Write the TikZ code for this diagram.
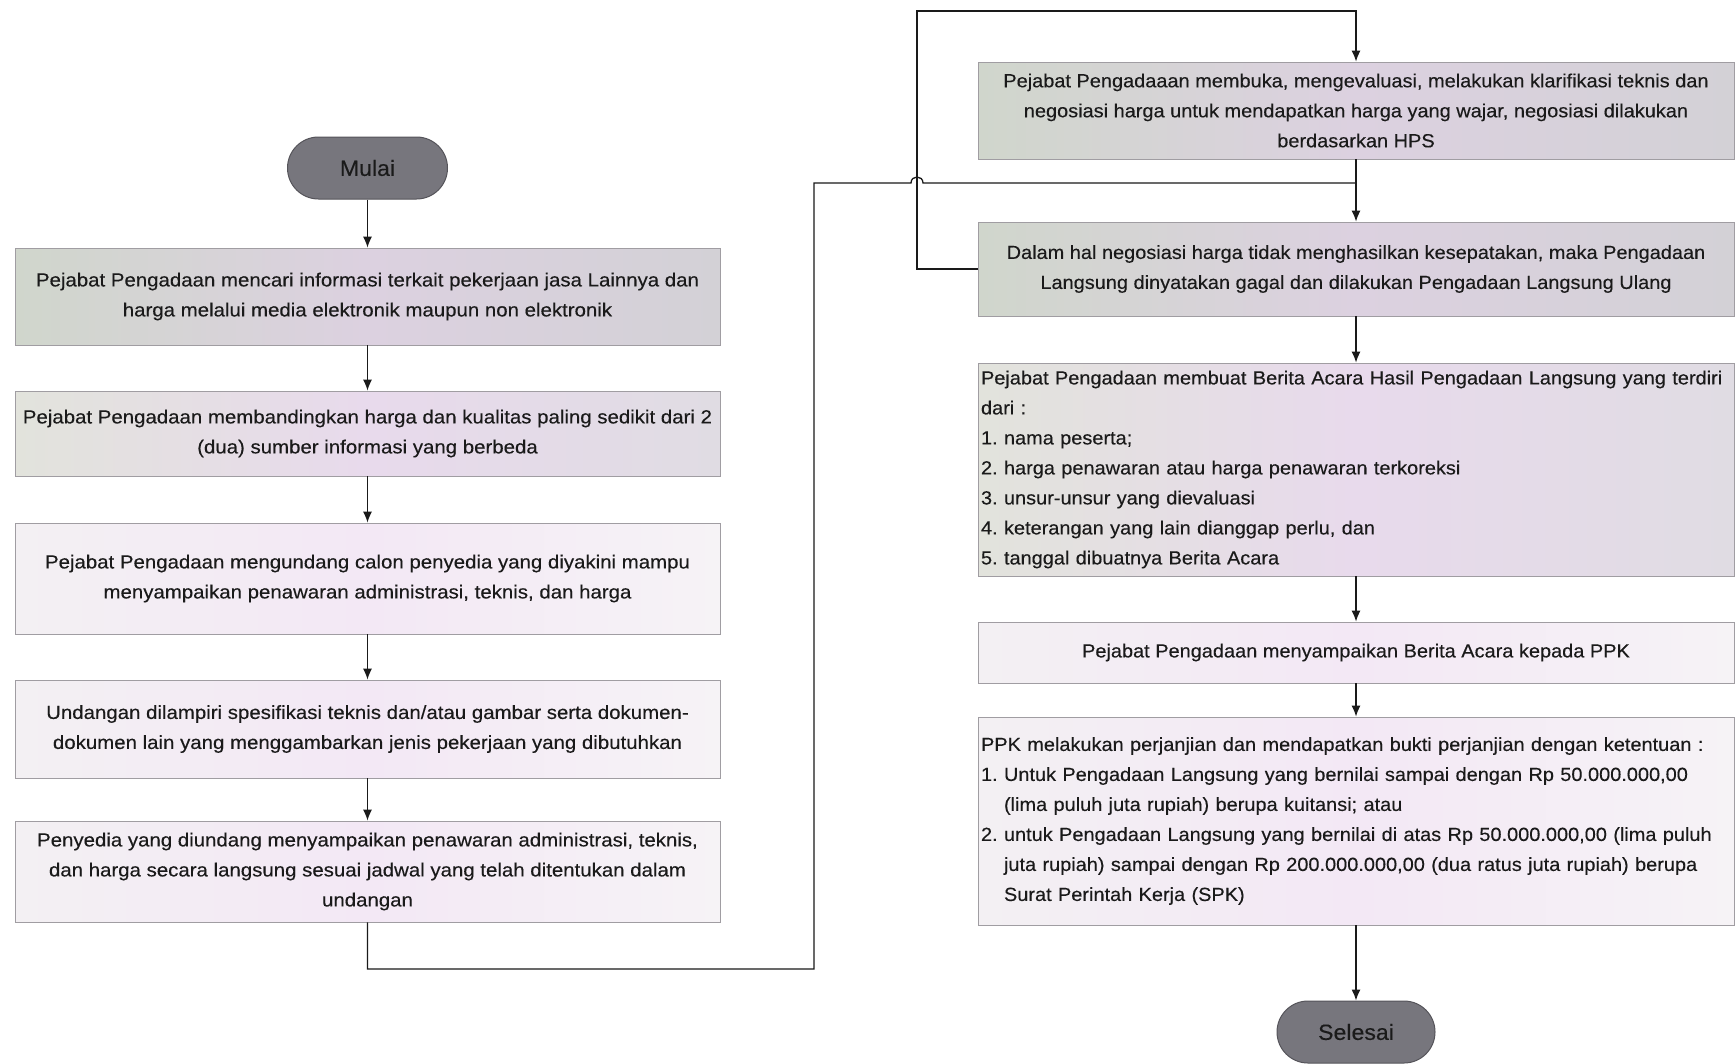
\documentclass[tikz,border=0pt]{standalone}
\usepackage{fontspec}
\setmainfont{Liberation Sans}[FakeStretch=1.05, FakeBold=0.25]
\newfontfamily\widefont{Liberation Sans}[FakeStretch=1.075, FakeBold=0.25]
\usetikzlibrary{arrows.meta}
\frenchspacing

\definecolor{inkc}{HTML}{1A1A1A}
\definecolor{edgec}{HTML}{A09DA2}
\definecolor{pillfill}{HTML}{77767D}
\definecolor{pilledge}{HTML}{55545A}
% pastel tones of the process boxes
\definecolor{dkL}{HTML}{D0D6CC}\definecolor{dkM}{HTML}{DCD1E0}\definecolor{dkR}{HTML}{D3D1D6}
\definecolor{mdL}{HTML}{E2E3DC}\definecolor{mdM}{HTML}{E8DAEC}\definecolor{mdR}{HTML}{E0DCE3}
\definecolor{ltL}{HTML}{F3F0F3}\definecolor{ltM}{HTML}{F3E8F5}\definecolor{ltR}{HTML}{F6F3F6}

\begin{document}
\begin{tikzpicture}[x=1pt,y=-1pt,
  txt/.style={font=\fontsize{19}{30}\selectfont, text=inkc},
  proc/.style={txt, rectangle, draw=edgec, line width=0.8pt, inner sep=3pt, align=center},
  dark/.style={left color=dkL, right color=dkR, middle color=dkM},
  mid/.style={left color=mdL, right color=mdR, middle color=mdM},
  light/.style={left color=ltL, right color=ltR, middle color=ltM},
  lbox/.style={proc, font=\widefont\fontsize{19}{30}\selectfont, minimum width=705pt},
  rbox/.style={proc, minimum width=756pt},
  pill/.style={rectangle, rounded corners=31pt, fill=pillfill, draw=pilledge,
               line width=1pt, minimum height=62pt, text=inkc,
               font=\fontsize{22}{26}\selectfont},
  link/.style={draw=inkc, line width=1.3pt},
  arr/.style={link, -{Latex[length=11pt,width=9pt]}}
]
\useasboundingbox[fill=white] (0,0) rectangle (1736,1063);

% ---- left column ----
\node[pill, minimum width=160pt] (start) at (367.5,168) {Mulai};

\node[lbox, dark, minimum height=97pt] (b1) at (367.5,296.5)
  {Pejabat Pengadaan mencari informasi terkait pekerjaan jasa Lainnya dan\\
   harga melalui media elektronik maupun non elektronik};
\node[lbox, mid, minimum height=85pt] (b2) at (367.5,433.5)
  {Pejabat Pengadaan membandingkan harga dan kualitas paling sedikit dari 2\\
   (dua) sumber informasi yang berbeda};
\node[lbox, light, minimum height=111pt] (b3) at (367.5,578.5)
  {Pejabat Pengadaan mengundang calon penyedia yang diyakini mampu\\
   menyampaikan penawaran administrasi, teknis, dan harga};
\node[lbox, light, minimum height=98pt] (b4) at (367.5,729)
  {Undangan dilampiri spesifikasi teknis dan/atau gambar serta dokumen-\\
   dokumen lain yang menggambarkan jenis pekerjaan yang dibutuhkan};
\node[lbox, light, minimum height=101pt] (b5) at (367.5,871.5)
  {Penyedia yang diundang menyampaikan penawaran administrasi, teknis,\\
   dan harga secara langsung sesuai jadwal yang telah ditentukan dalam\\
   undangan};

% ---- right column ----
\node[rbox, dark, minimum height=97pt] (b6) at (1356,110.5)
  {Pejabat Pengadaaan membuka, mengevaluasi, melakukan klarifikasi teknis dan\\
   negosiasi harga untuk mendapatkan harga yang wajar, negosiasi dilakukan\\
   berdasarkan HPS};
\node[rbox, dark, minimum height=94pt] (b7) at (1356,269)
  {Dalam hal negosiasi harga tidak menghasilkan kesepatakan, maka Pengadaan\\
   Langsung dinyatakan gagal dan dilakukan Pengadaan Langsung Ulang};
\node[rbox, mid, minimum height=213pt, text width=750pt, align=left] (b8) at (1356,469.5)
  {Pejabat Pengadaan membuat Berita Acara Hasil Pengadaan Langsung yang terdiri\\
   dari :\\
   1. nama peserta;\\
   2. harga penawaran atau harga penawaran terkoreksi\\
   3. unsur-unsur yang dievaluasi\\
   4. keterangan yang lain dianggap perlu, dan\\
   5. tanggal dibuatnya Berita Acara};
\node[rbox, light, minimum height=61pt] (b9) at (1356,652.5)
  {Pejabat Pengadaan menyampaikan Berita Acara kepada PPK};
\node[rbox, light, minimum height=208pt, text width=750pt, align=left] (b10) at (1356,821)
  {PPK melakukan perjanjian dan mendapatkan bukti perjanjian dengan ketentuan :\\
   1. Untuk Pengadaan Langsung yang bernilai sampai dengan Rp 50.000.000,00\\
   \phantom{1. }(lima puluh juta rupiah) berupa kuitansi; atau\\
   2. untuk Pengadaan Langsung yang bernilai di atas Rp 50.000.000,00 (lima puluh\\
   \phantom{2. }juta rupiah) sampai dengan Rp 200.000.000,00 (dua ratus juta rupiah) berupa\\
   \phantom{2. }Surat Perintah Kerja (SPK)};

\node[pill, minimum width=158pt] (stop) at (1356,1032) {Selesai};

% ---- straight flow ----
\draw[arr] (start.south) -- (b1.north);
\draw[arr] (b1.south) -- (b2.north);
\draw[arr] (b2.south) -- (b3.north);
\draw[arr] (b3.south) -- (b4.north);
\draw[arr] (b4.south) -- (b5.north);
\draw[arr] (b6.south) -- (b7.north);
\draw[arr] (b7.south) -- (b8.north);
\draw[arr] (b8.south) -- (b9.north);
\draw[arr] (b9.south) -- (b10.north);
\draw[arr] (b10.south) -- (stop.north);

% ---- link from the left column into the right column, hopping over the return line ----
\coordinate (lowturn) at (814,969);
\coordinate (hopL) at (911,183);
\coordinate (hopR) at (923,183);
\coordinate (join) at (1356,183);
\draw[link] (b5.south) |- (lowturn) |- (hopL)
  .. controls (911,175) and (923,175) .. (hopR) -- (join);

% ---- return line from the failure box back to the evaluation box ----
\coordinate (topturn) at (917,11);
\draw[arr] (b7.west) -| (topturn) -| (b6.north);
\end{tikzpicture}
\end{document}
